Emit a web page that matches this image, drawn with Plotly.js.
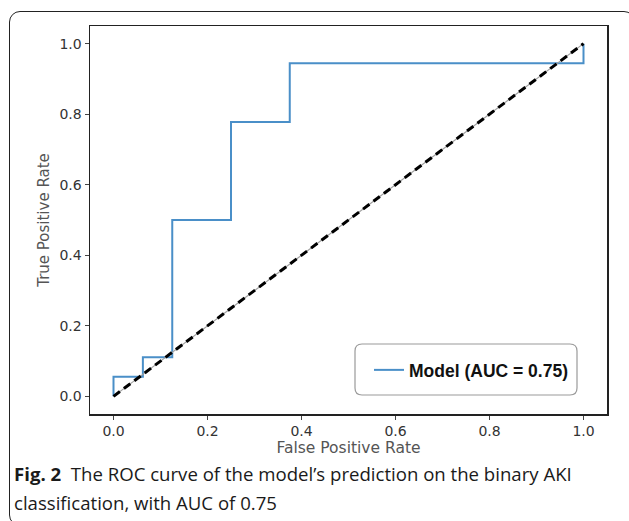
<!DOCTYPE html>
<html><head><meta charset="utf-8">
<script src="https://cdn.plot.ly/plotly-3.0.1.min.js"></script>
<style>
html,body{margin:0;padding:0;background:#fff;}
#wrap{position:relative;width:629px;height:521px;overflow:hidden;}
#frame{position:absolute;left:9px;top:11px;width:626px;height:515px;border:1.5px solid #222;border-radius:11px;box-sizing:border-box;}
#chart{position:absolute;left:0;top:0;width:629px;height:521px;}
</style></head>
<body><div id="wrap"><div id="frame"></div><div id="chart"></div></div>
<script>
// ROC curve data (step points)
const fpr = [0, 0, 0.0625, 0.0625, 0.125, 0.125, 0.25, 0.25, 0.375, 0.375, 1.0, 1.0];
const tpr = [0, 0.0556, 0.0556, 0.1111, 0.1111, 0.5, 0.5, 0.7778, 0.7778, 0.9444, 0.9444, 1.0];
const diagX = [0, 1];
const diagY = [0, 1];
const seriesName = 'Model (AUC = 0.75)';
const tickVals = [0, 0.2, 0.4, 0.6, 0.8, 1.0];
const tickText = ['0.0', '0.2', '0.4', '0.6', '0.8', '1.0'];

// plot-area geometry in px (for decoration conversion)
const L = 90, T = 26, W = 517, H = 388;
const px = x => (x - L) / W;
const py = y => (T + H - y) / H;
function roundRect(x0, y0, x1, y1, r) {
  const P = (x, y) => px(x) + ',' + py(y);
  return 'M' + P(x0 + r, y0) + ' L' + P(x1 - r, y0) + ' Q' + P(x1, y0) + ' ' + P(x1, y0 + r) +
    ' L' + P(x1, y1 - r) + ' Q' + P(x1, y1) + ' ' + P(x1 - r, y1) +
    ' L' + P(x0 + r, y1) + ' Q' + P(x0, y1) + ' ' + P(x0, y1 - r) +
    ' L' + P(x0, y0 + r) + ' Q' + P(x0, y0) + ' ' + P(x0 + r, y0) + ' Z';
}

const traces = [
  {x: fpr, y: tpr, mode: 'lines', name: seriesName, line: {color: '#4a8fc8', width: 2}},
  {x: diagX, y: diagY, mode: 'lines', showlegend: false, line: {color: '#a0a0a0', width: 1.2}},
  {x: diagX, y: diagY, mode: 'lines', showlegend: false, line: {color: '#000', width: 3, dash: '8px,5px'}}
];

const axisCommon = {
  range: [-0.05, 1.05], tickvals: tickVals, ticktext: tickText,
  ticks: 'outside', ticklen: 4, tickwidth: 1, tickcolor: '#444',
  showgrid: false, zeroline: false, showline: true, mirror: true,
  linecolor: '#222', linewidth: 1.5,
  tickfont: {family: 'DejaVu Sans', size: 14, color: '#333'}
};

const layout = {
  width: 629, height: 521,
  margin: {l: L, t: T, r: 629 - L - W, b: 521 - T - H},
  paper_bgcolor: 'rgba(0,0,0,0)', plot_bgcolor: 'rgba(0,0,0,0)',
  xaxis: Object.assign({}, axisCommon, {title: {text: 'False Positive Rate', standoff: 3, font: {family: 'DejaVu Sans', size: 15.5, color: '#555'}}}),
  yaxis: Object.assign({}, axisCommon, {title: {text: 'True Positive Rate', standoff: 6, font: {family: 'DejaVu Sans', size: 15, color: '#555'}}}),
  showlegend: true,
  legend: {
    x: px(369), y: py(370), xanchor: 'left', yanchor: 'middle',
    bgcolor: 'rgba(0,0,0,0)', borderwidth: 0,
    font: {family: 'Liberation Sans', size: 17.5, color: '#111', weight: 700}
  },
  shapes: [
    {type: 'path', xref: 'paper', yref: 'paper', path: roundRect(355, 344, 577, 395, 7),
     line: {color: '#9a9a9a', width: 1.2}, fillcolor: 'rgba(255,255,255,0.9)', layer: 'below'}
  ],
  annotations: [
    {xref: 'paper', yref: 'paper', x: px(12), y: py(474), xanchor: 'left', yanchor: 'middle', showarrow: false, align: 'left',
     text: '<b>Fig. 2</b>  The ROC curve of the model’s prediction on the binary AKI',
     font: {family: 'Open Sans', size: 18.6, color: '#1a1a1a'}},
    {xref: 'paper', yref: 'paper', x: px(12), y: py(502), xanchor: 'left', yanchor: 'middle', showarrow: false, align: 'left',
     text: 'classification, with AUC of 0.75',
     font: {family: 'Open Sans', size: 18.6, color: '#1a1a1a'}}
  ]
};

Plotly.newPlot('chart', traces, layout, {displayModeBar: false, staticPlot: true});
</script></body></html>
